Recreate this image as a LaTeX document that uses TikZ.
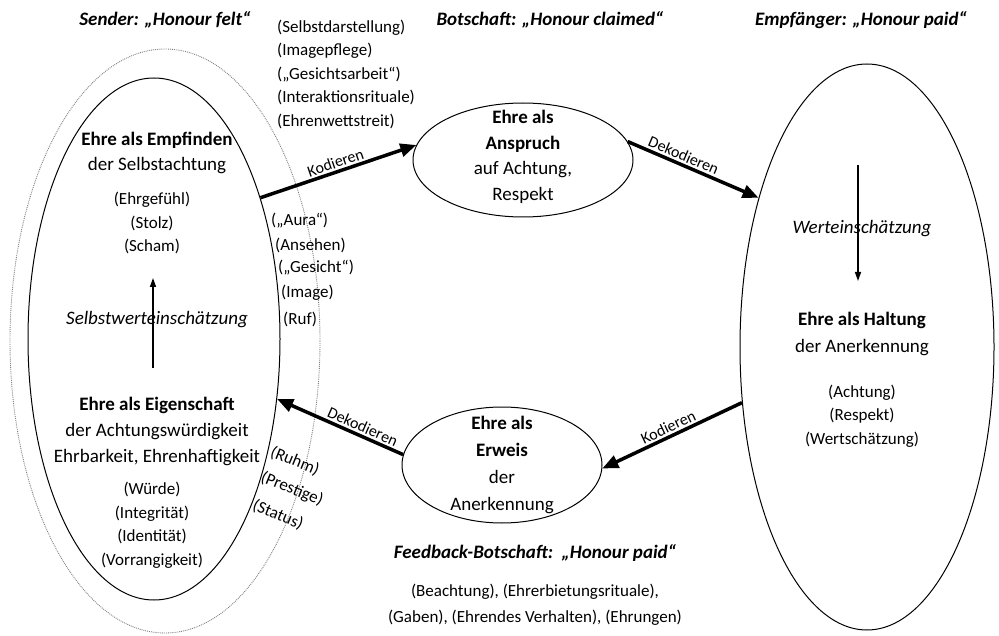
\documentclass[tikz,border=0pt]{standalone}
\usepackage{fontspec}
\setmainfont{Carlito}
\usetikzlibrary{arrows.meta,shapes.geometric}
\begin{document}
\begin{tikzpicture}[x=1pt,y=-1pt,
 main/.style={font=\fontsize{19}{25}\selectfont, align=center, inner sep=0pt},
 small/.style={font=\fontsize{17}{23.5}\selectfont, align=center, inner sep=0pt},
 title/.style={font=\fontsize{19}{24}\selectfont\bfseries\itshape, inner sep=0pt},
 oval/.style={ellipse, draw, line width=1pt, inner sep=0pt},
 flow/.style={line width=3.5pt, -{Triangle[length=16pt,width=13pt]}},
 lbl/.style={font=\fontsize{16}{18}\selectfont, sloped, above, inner sep=2pt},
 thinarrow/.style={line width=1.5pt, -{Triangle[length=9pt,width=6pt]}}]

\useasboundingbox (0,0) rectangle (999,636);

% ellipses
\node[ellipse, draw=gray, densely dotted, line width=0.9pt, minimum width=310pt, minimum height=584pt, inner sep=0pt] (outer) at (165,341) {};
\node[oval, minimum width=252pt, minimum height=522pt] (inner) at (154,339) {};
\node[oval, minimum width=220pt, minimum height=114pt] (top) at (523,160) {};
\node[oval, minimum width=200pt, minimum height=116pt] (bottom) at (502,465) {};
\node[oval, minimum width=254pt, minimum height=566pt] (right) at (867,347) {};

% titles
\node[title] (t1) at (165,20) {Sender: „Honour felt“};
\node[title] (t2) at (550,20) {Botschaft: „Honour claimed“};
\node[title] (t3) at (861,20) {Empfänger: „Honour paid“};
\node[title] (t4) at (535,553) {Feedback-Botschaft:\ \ „Honour paid“};
\node[small, font=\fontsize{17}{26}\selectfont] (fb) at (535,605) {(Beachtung), (Ehrerbietungsrituale),\\(Gaben), (Ehrendes Verhalten), (Ehrungen)};

% left inner texts
\node[main] (emp) at (157,153) {\textbf{Ehre als Empfinden}\\der Selbstachtung};
\node[small] (gef) at (152,223) {(Ehrgefühl)\\(Stolz)\\(Scham)};
\node[main, font=\fontsize{19}{25}\selectfont\itshape] (swe) at (157,320) {Selbstwerteinschätzung};
\node[main, font=\fontsize{19}{26}\selectfont] (eig) at (157,431) {\textbf{Ehre als Eigenschaft}\\der Achtungswürdigkeit\\Ehrbarkeit, Ehrenhaftigkeit};
\node[small] (wue) at (152,525) {(Würde)\\(Integrität)\\(Identität)\\(Vorrangigkeit)};
\coordinate (la1) at (153,368);
\coordinate (la2) at (153,278);
\draw[thinarrow] (la1) -- (la2);

% top-left list
\node[small, align=left, anchor=west] (list1) at (277,74) {(Selbstdarstellung)\\(Imagepflege)\\(„Gesichtsarbeit“)\\(Interaktionsrituale)\\(Ehrenwettstreit)};

% aura list
\node[small, anchor=west] (a1) at (271,221) {(„Aura“)};
\node[small, anchor=west] (a2) at (275,245) {(Ansehen)};
\node[small, anchor=west] (a3) at (278,268) {(„Gesicht“)};
\node[small, anchor=west] (a4) at (281,293) {(Image)};
\node[small, anchor=west] (a5) at (283,319) {(Ruf)};

% rotated list
\node[small, rotate=-22] (r1) at (295,461) {(Ruhm)};
\node[small, rotate=-22] (r2) at (292,489) {(Prestige)};
\node[small, rotate=-22] (r3) at (278,515) {(Status)};

% top ellipse text
\node[main, font=\fontsize{19}{25.7}\selectfont] (ansp) at (523,157) {\textbf{Ehre als}\\\textbf{Anspruch}\\auf Achtung,\\Respekt};
% bottom ellipse text
\node[main, font=\fontsize{19}{27}\selectfont] (erw) at (502,465) {\textbf{Ehre als}\\\textbf{Erweis}\\der\\Anerkennung};

% right ellipse texts
\node[main, font=\fontsize{19}{25}\selectfont\itshape] (we) at (862,229) {Werteinschätzung};
\coordinate (ra1) at (858,165);
\coordinate (ra2) at (858,281);
\draw[thinarrow] (ra1) -- (ra2);
\node[main, font=\fontsize{19}{27}\selectfont] (hal) at (862,334) {\textbf{Ehre als Haltung}\\der Anerkennung};
\node[small] (ach) at (862,416) {(Achtung)\\(Respekt)\\(Wertschätzung)};

% flow arrows
\draw[flow] (inner.53.6) -- node[lbl]{Kodieren} (top.172);
\draw[flow] (top.10) -- node[lbl,pos=0.4]{Dekodieren} (right.126.8);
\draw[flow] (right.204.8) -- node[lbl]{Kodieren} (bottom.358);
\draw[flow] (bottom.174) -- node[lbl,pos=0.35]{Dekodieren} (inner.-26);
\end{tikzpicture}
\end{document}
